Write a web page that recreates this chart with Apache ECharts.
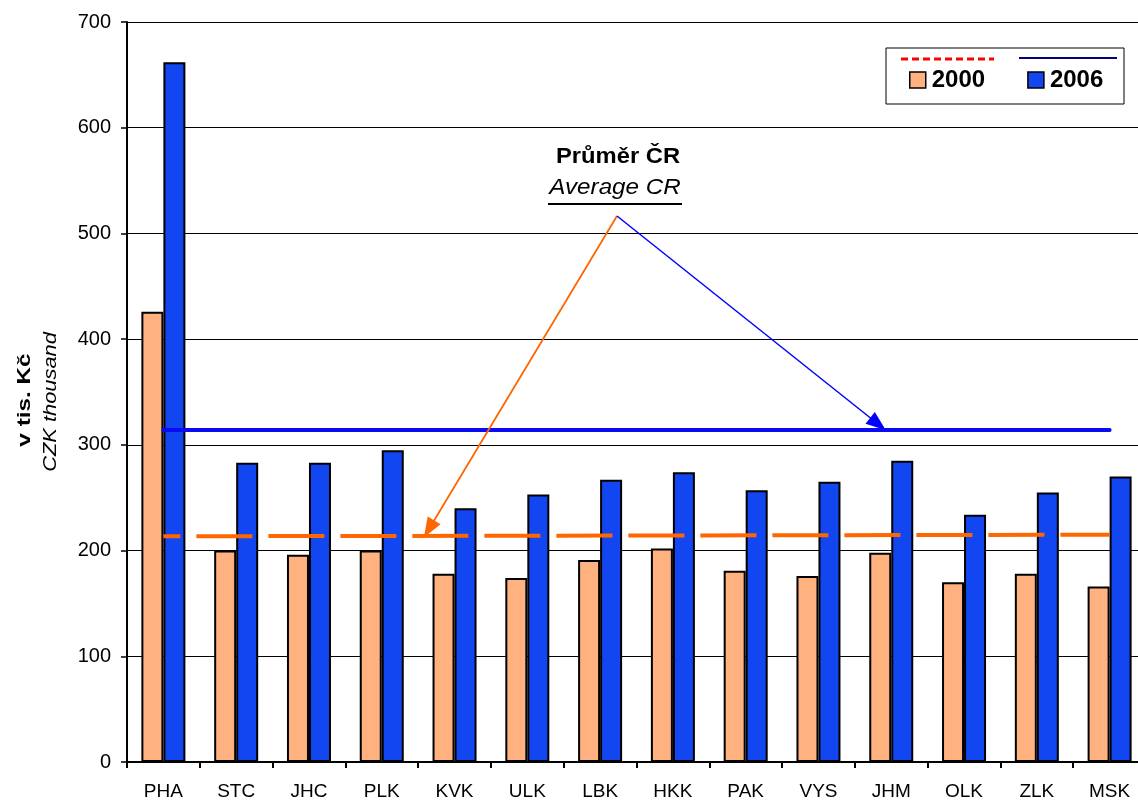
<!DOCTYPE html>
<html>
<head>
<meta charset="utf-8">
<script src="https://cdn.jsdelivr.net/npm/echarts@6/dist/echarts.min.js"></script>
<style>
  html, body { margin: 0; padding: 0; background: #fff; overflow: hidden; }
  #chart { width: 1138px; height: 802px; }
</style>
</head>
<body>
<div id="chart"></div>
<script>
// kraje
const categories = ['PHA', 'STC', 'JHC', 'PLK', 'KVK', 'ULK', 'LBK', 'HKK', 'PAK', 'VYS', 'JHM', 'OLK', 'ZLK', 'MSK']
// v tis. Kč
const values2000 = [426, 200, 196, 200, 178, 174, 191, 202, 181, 176, 198, 170, 178, 166]
const values2006 = [662, 283, 283, 295, 240, 253, 267, 274, 257, 265, 285, 234, 255, 270]
// průměr ČR (začátek, konec)
const avg2000 = [213.5, 215]
const avg2006 = [314, 314]

const font = "'Liberation Sans', Arial, sans-serif"

let myChart = echarts.init(document.getElementById('chart'))

const options = {
  animation: false,
  textStyle: { fontFamily: font, color: '#000' },
  // plocha grafu přesahuje vpravo mimo obrázek
  grid: { left: 127, right: -8, top: 22, bottom: 40, outerBoundsMode: 'none', containLabel: false },
  legend: {
    left: 909,
    top: 68,
    padding: 0,
    itemWidth: 16,
    itemHeight: 16,
    itemGap: 42,
    icon: 'rect',
    selectedMode: false,
    textStyle: { fontFamily: font, fontSize: 24, fontWeight: 'bold', color: '#000', padding: [0, 0, 0, 1] },
    itemStyle: { borderColor: '#000', borderWidth: 1.5 },
    data: ['2000', '2006']
  },
  xAxis: {
    type: 'category',
    data: categories,
    axisLine: { lineStyle: { color: '#000', width: 2 } },
    axisTick: { show: true, length: 6, lineStyle: { color: '#000', width: 2 } },
    axisLabel: { interval: 0, fontSize: 19, margin: 20, color: '#000', fontFamily: font }
  },
  yAxis: {
    type: 'value',
    min: 0,
    max: 700,
    interval: 100,
    axisLine: { show: true, lineStyle: { color: '#000', width: 2 } },
    axisTick: { show: true, length: 6, lineStyle: { color: '#000', width: 1.5 } },
    axisLabel: { fontSize: 20, margin: 16, color: '#000', fontFamily: font },
    splitLine: { show: true, lineStyle: { color: '#000', width: 1 } }
  },
  series: [
    {
      name: '2000',
      type: 'bar',
      data: values2000,
      barWidth: 22,
      barGap: '0%',
      itemStyle: { color: '#FFB27F', borderColor: '#000', borderWidth: 2 },
      emphasis: { disabled: true }
    },
    {
      name: '2006',
      type: 'bar',
      data: values2006,
      barWidth: 22,
      barGap: '0%',
      itemStyle: { color: '#1246F0', borderColor: '#000', borderWidth: 2 },
      emphasis: { disabled: true }
    },
    {
      // průměry a šipky (bez vlastních bodů)
      name: 'prumer',
      type: 'line',
      data: [],
      silent: true,
      markLine: {
        silent: true,
        symbol: ['none', 'none'],
        label: { show: false },
        emphasis: { disabled: true },
        data: [
          // průměr 2000
          [
            { coord: [0, avg2000[0]], lineStyle: { color: '#FF6600', width: 4, type: [56, 16], dashOffset: 39 } },
            { coord: [categories.length - 1, avg2000[1]] }
          ],
          // průměr 2006
          [
            { coord: [0, avg2006[0]], lineStyle: { color: '#0A0AF5', width: 4, type: 'solid', cap: 'round' } },
            { coord: [categories.length - 1, avg2006[1]] }
          ],
          // šipky z popisku
          [
            { x: 617, y: 216, symbol: 'none', lineStyle: { color: '#FF6600', width: 1.8, type: 'solid' } },
            { x: 429, y: 529, symbol: 'triangle', symbolSize: [15, 20] }
          ],
          [
            { x: 617, y: 216, symbol: 'none', lineStyle: { color: '#0000FF', width: 1.5, type: 'solid' } },
            { x: 878, y: 424, symbol: 'triangle', symbolSize: [15, 20] }
          ]
        ]
      }
    }
  ],
  graphic: [
    // legenda - rámeček a čáry
    {
      type: 'rect', z: 3, silent: true,
      shape: { x: 886, y: 48, width: 238, height: 56 },
      style: { fill: '#fff', stroke: '#000', lineWidth: 1 }
    },
    {
      type: 'line', z: 5, silent: true,
      shape: { x1: 901, y1: 59, x2: 994, y2: 59 },
      style: { stroke: '#FF0000', lineWidth: 3, lineDash: [7, 4] }
    },
    {
      type: 'line', z: 5, silent: true,
      shape: { x1: 1019, y1: 58, x2: 1117, y2: 58 },
      style: { stroke: '#000080', lineWidth: 2 }
    },
    // popisek průměru
    {
      type: 'text', z: 6, silent: true,
      x: 618, y: 168, scaleX: 1.08,
      style: { text: 'Průměr ČR', font: 'bold 22px ' + font, fill: '#000', textAlign: 'center', textVerticalAlign: 'bottom' }
    },
    {
      type: 'text', z: 6, silent: true,
      x: 615, y: 199, scaleX: 1.1,
      style: { text: 'Average CR', font: 'italic 22px ' + font, fill: '#000', textAlign: 'center', textVerticalAlign: 'bottom' }
    },
    {
      type: 'line', z: 6, silent: true,
      shape: { x1: 548, y1: 204, x2: 682, y2: 204 },
      style: { stroke: '#000', lineWidth: 2 }
    },
    // název osy y
    {
      type: 'text', z: 6, silent: true,
      x: 25, y: 400, rotation: Math.PI / 2, scaleX: 1.28,
      style: { text: 'v tis. Kč', font: 'bold 19px ' + font, fill: '#000', textAlign: 'center', textVerticalAlign: 'middle' }
    },
    {
      type: 'text', z: 6, silent: true,
      x: 51, y: 402, rotation: Math.PI / 2, scaleX: 1.15,
      style: { text: 'CZK thousand', font: 'italic 19px ' + font, fill: '#000', textAlign: 'center', textVerticalAlign: 'middle' }
    }
  ]
}

myChart.setOption(options)
window.addEventListener('resize', () => {
  myChart.resize()
})
</script>
</body>
</html>
